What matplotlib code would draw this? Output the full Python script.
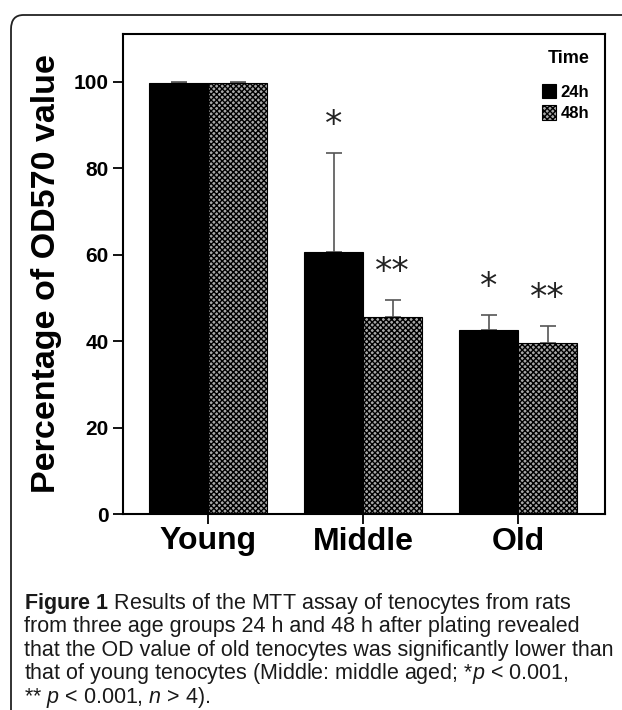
import matplotlib
matplotlib.use("Agg")
import numpy as np
from matplotlib import pyplot as plt
from matplotlib.patches import FancyBboxPatch

groups = ["Young", "Middle", "Old"]
series = ["24h", "48h"]
vals_24h = [99.6, 60.5, 42.5]
err_24h = [0.4, 23.0, 3.5]
vals_48h = [99.6, 45.5, 39.5]
err_48h = [0.4, 4.0, 4.0]
stars_24h = ["", "*", "*"]
stars_48h = ["", "**", "**"]
yticks = [0, 20, 40, 60, 80, 100]

caption = [
    r"$\mathbf{Figure\ 1}$ Results of the MTT assay of tenocytes from rats",
    "from three age groups 24 h and 48 h after plating revealed",
    "that the OD value of old tenocytes was significantly lower than",
    r"that of young tenocytes (Middle: middle aged; *$\mathit{p}$ < 0.001,",
    r"** $\mathit{p}$ < 0.001, $\mathit{n}$ > 4).",
]

bold_font = ["Liberation Sans", "DejaVu Sans"]
plt.rcParams["hatch.linewidth"] = 1.0
plt.rcParams["mathtext.fontset"] = "custom"
plt.rcParams["mathtext.rm"] = "Liberation Sans"
plt.rcParams["mathtext.it"] = "Liberation Sans:italic"
plt.rcParams["mathtext.bf"] = "Liberation Sans:bold"

fig = plt.figure(figsize=(6.22, 7.10), dpi=100)

# rounded frame round the whole figure (right and bottom run off the page)
frame = FancyBboxPatch((11 / 622, -0.1), 1.2, 1.0 - 15 / 710 + 0.1,
                       boxstyle="round,pad=0,rounding_size=0.02",
                       transform=fig.transFigure, fill=False,
                       edgecolor="#222222", linewidth=1.3)
fig.patches.append(frame)

ax = fig.add_axes([123 / 622, 1 - 514 / 710, (605 - 123) / 622, (514 - 34) / 710])

x = np.arange(len(groups))
w = 0.38
ax.bar(x - w / 2, vals_24h, w, color="black", edgecolor="black", linewidth=0.8,
       label=series[0], zorder=2)
ax.bar(x + w / 2, vals_48h, w, color="#a8a8a8", edgecolor="black", hatch="xxxxxx",
       linewidth=0.8, label=series[1], zorder=2)
ax.errorbar(x - w / 2, vals_24h, yerr=[np.zeros(3), err_24h], fmt="none",
            ecolor="#555555", elinewidth=1.2, capsize=6, capthick=1.2, zorder=1)
ax.errorbar(x + w / 2, vals_48h, yerr=[np.zeros(3), err_48h], fmt="none",
            ecolor="#555555", elinewidth=1.2, capsize=6, capthick=1.2, zorder=1)

for xi, v, e, s in zip(x - w / 2, vals_24h, err_24h, stars_24h):
    if s:
        ax.text(xi, v + e + 2.5, s, ha="center", va="bottom", fontsize=25,
                color="#222222", family="DejaVu Sans")
for xi, v, e, s in zip(x + w / 2, vals_48h, err_48h, stars_48h):
    if s:
        ax.text(xi, v + e + 2.5, s, ha="center", va="bottom", fontsize=25,
                color="#222222", family="DejaVu Sans")

ax.set_xlim(-0.55, 2.56)
ax.set_ylim(0, 111)
ax.set_yticks(yticks)
ax.set_xticks(x)
ax.set_xticklabels(groups, family=bold_font, fontweight="bold", fontsize=23)
ax.set_yticklabels([str(t) for t in yticks], family=bold_font, fontweight="bold", fontsize=15)
ax.tick_params(axis="both", direction="out", length=7, width=1.3, color="black")
ax.tick_params(axis="x", pad=2)
for sp in ax.spines.values():
    sp.set_linewidth(1.5)

ax.set_ylabel("Percentage of OD570 value", family=bold_font,
              fontweight="bold", fontsize=24.5, labelpad=8)

leg = ax.legend(loc="upper right", frameon=False, title="Time",
                prop={"family": bold_font, "weight": "bold", "size": 12},
                handlelength=0.85, handleheight=1.0, handletextpad=0.25,
                borderaxespad=0.55, labelspacing=0.3)
leg.get_title().set_fontfamily(bold_font)
leg.get_title().set_fontweight("bold")
leg.get_title().set_fontsize(13)
leg._legend_box.align = "right"
leg._legend_box.sep = 12

y0 = 1 - 603 / 710
for i, line in enumerate(caption):
    fig.text(24 / 622, y0 - i * 23.6 / 710, line, family="Liberation Sans",
             fontsize=15.5, va="center", ha="left", color="#1a1a1a")

fig.savefig("out.png", dpi=100)
